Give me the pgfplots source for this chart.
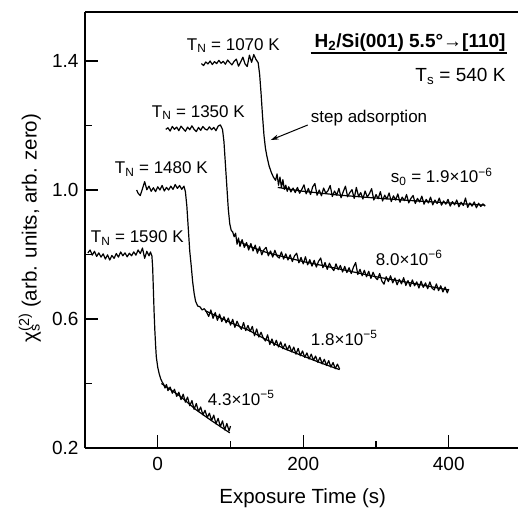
\documentclass[border=0pt]{standalone}
\usepackage{fontspec}
\setmainfont{Liberation Sans}
\usepackage{pgfplots}
\pgfplotsset{compat=1.18}
\usetikzlibrary{arrows.meta}
\newcommand{\ann}{\fontsize{17}{20}\selectfont}
\begin{document}
\begin{tikzpicture}
\begin{axis}[
  scale only axis, width=433pt, height=436pt,
  xmin=-100, xmax=495.2, ymin=0.2, ymax=1.552,
  axis x line=box, axis y line=left,
  axis line style={line width=1.3pt,-},
  xtick={0,200,400}, minor xtick={100,300},
  ytick={0.2,0.6,1.0,1.4}, minor ytick={0.4,0.8,1.2},
  xtick pos=lower, ytick pos=left,
  tick align=inside,
  major tick length=13pt, minor tick length=7pt,
  every tick/.style={line width=1.3pt, black},
  /pgf/number format/assume math mode=true,
  tick label style={font=\fontsize{19}{22}\selectfont},
  yticklabel style={xshift=-3pt, /pgf/number format/fixed, /pgf/number format/fixed zerofill, /pgf/number format/precision=1},
  xticklabel style={yshift=-6pt},
  clip=false,
  data/.style={black, mark=none, line width=1.2pt, line join=round},
]
% T_N = 1070 K, s0 = 1.9e-6
\addplot[data] coordinates {
(60,1.392)(63,1.386)(66,1.397)(69,1.391)(72,1.400)(75,1.389)(78,1.398)(81,1.392)(84,1.402)(87,1.393)
(90,1.399)(93,1.390)(96,1.403)(99,1.395)(102,1.388)(105,1.399)(108,1.406)(111,1.384)(114,1.397)(117,1.412)
(120,1.391)(123,1.383)(126,1.418)(129,1.396)(132,1.420)(135,1.405)(138,1.395)
(140,1.36)(142,1.30)(144,1.23)(146,1.17)(148,1.13)(150,1.105)(153,1.075)(156,1.055)(159,1.040)(162,1.030)
(164,1.050)(166,1.015)(168,1.040)(170,1.008)(172,1.032)(174,1.002)(176,1.015)(178,0.996)(180,1.010)(183,0.994)
(186,1.006)(189,0.992)(192,1.008)(195,0.990)(198,1.002)(201,1.016)(204,0.988)(207,1.005)(210,0.986)(213,1.010)
(216,1.020)(219,0.984)(222,1.000)(225,0.982)(228,1.006)(231,0.990)(234,0.998)(237,1.014)(240,0.980)(243,0.997)
(246,0.984)(249,1.005)(252,0.976)(255,0.995)(258,1.012)(261,0.979)(264,0.992)(267,1.001)(270,0.974)(273,1.008)
(276,0.980)(279,0.992)(282,0.972)(285,0.997)(288,0.978)(291,0.989)(294,1.004)(297,0.969)(300,0.986)(303,0.973)
(306,0.995)(309,0.966)(312,0.984)(315,0.972)(318,0.991)(321,0.964)(324,0.982)(327,0.969)(330,0.988)(333,0.962)
(336,0.978)(339,0.967)(342,0.986)(345,0.960)(348,0.974)(351,0.983)(354,0.958)(357,0.974)(360,0.963)(363,0.981)
(366,0.956)(369,0.971)(372,0.960)(375,0.978)(378,0.954)(381,0.969)(384,0.958)(387,0.975)(390,0.953)(393,0.966)
(396,0.956)(399,0.971)(402,0.950)(405,0.964)(408,0.954)(411,0.969)(414,0.948)(417,0.962)(420,0.952)(423,0.975)
(426,0.946)(429,0.960)(432,0.950)(435,0.963)(438,0.945)(441,0.959)(444,0.949)(447,0.957)(450,0.950)
};
\addplot[data] coordinates {(165,1.008)(200,0.996)(250,0.984)(300,0.975)(350,0.967)(400,0.960)(450,0.953)};
% T_N = 1350 K, s0 = 8.0e-6
\addplot[data] coordinates {
(11,1.188)(14,1.193)(17,1.183)(20,1.197)(23,1.188)(26,1.195)(29,1.184)(32,1.198)(35,1.190)(38,1.182)
(41,1.195)(44,1.187)(47,1.199)(50,1.188)(53,1.181)(56,1.194)(59,1.185)(62,1.197)(65,1.189)(68,1.186)
(71,1.196)(74,1.187)(77,1.194)(80,1.184)(83,1.198)(86,1.202)(89,1.188)
(91,1.15)(93,1.08)(95,1.01)(97,0.94)(99,0.895)(101,0.875)(103,0.870)
(105,0.855)(107,0.866)(109,0.832)(111,0.851)(113,0.825)(116,0.846)(119,0.822)(122,0.837)(125,0.814)(128,0.834)
(131,0.811)(134,0.829)(137,0.804)(140,0.824)(143,0.799)(146,0.815)(149,0.822)(152,0.796)(155,0.811)(158,0.792)
(161,0.813)(164,0.795)(167,0.789)(170,0.808)(173,0.786)(176,0.802)(179,0.783)(182,0.799)(185,0.778)(188,0.796)
(191,0.804)(194,0.774)(197,0.791)(200,0.771)(203,0.793)(206,0.768)(209,0.784)(212,0.764)(215,0.782)(218,0.761)
(221,0.779)(224,0.789)(227,0.759)(230,0.775)(233,0.754)(236,0.773)(239,0.759)(242,0.750)(245,0.771)(248,0.753)
(251,0.766)(254,0.746)(257,0.763)(260,0.744)(263,0.759)(266,0.741)(269,0.761)(272,0.775)(275,0.738)(278,0.754)
(281,0.734)(284,0.751)(287,0.731)(290,0.748)(293,0.726)(296,0.745)(299,0.729)(302,0.722)(305,0.741)(308,0.718)
(311,0.708)(314,0.731)(317,0.716)(320,0.734)(323,0.712)(326,0.727)(329,0.706)(332,0.723)(335,0.709)(338,0.728)
(341,0.704)(344,0.719)(347,0.701)(350,0.721)(353,0.703)(356,0.715)(359,0.696)(362,0.717)(365,0.698)(368,0.712)
(371,0.694)(374,0.715)(377,0.696)(380,0.690)(383,0.709)(386,0.688)(389,0.703)(392,0.684)(395,0.699)(398,0.681)
(400,0.693)
};
\addplot[data] coordinates {(108,0.845)(125,0.826)(150,0.806)(200,0.778)(250,0.755)(300,0.731)(350,0.711)(400,0.690)};
% T_N = 1480 K, s0 = 1.8e-5
\addplot[data] coordinates {
(-29,1.000)(-27,0.990)(-24,0.983)(-21,1.004)(-18,1.026)(-15,1.001)(-12,1.012)(-9,0.996)(-6,1.007)(-3,0.995)
(0,1.010)(3,1.000)(6,1.014)(9,0.997)(12,1.008)(15,1.000)(18,1.012)(21,1.002)(24,1.017)(27,1.005)
(30,1.014)(33,1.002)(36,1.012)(38,0.995)
(40,0.95)(42,0.88)(44,0.81)(46,0.765)(48,0.715)(50,0.680)(52,0.655)(55,0.640)(58,0.638)(61,0.628)(64,0.632)
(67,0.622)(70,0.608)(73,0.628)(76,0.602)(79,0.620)(82,0.596)(85,0.615)(88,0.592)(91,0.607)(94,0.588)
(97,0.603)(100,0.581)(103,0.599)(106,0.574)(109,0.593)(112,0.578)(115,0.568)(118,0.589)(121,0.564)(124,0.580)
(127,0.561)(130,0.577)(133,0.548)(136,0.569)(139,0.544)(142,0.559)(145,0.541)(148,0.532)(151,0.551)(154,0.521)
(157,0.538)(160,0.518)(163,0.534)(166,0.513)(169,0.529)(172,0.508)(175,0.523)(178,0.504)(181,0.518)(184,0.498)
(187,0.513)(190,0.491)(193,0.509)(196,0.486)(199,0.501)(202,0.481)(205,0.495)(208,0.476)(211,0.491)(214,0.472)
(217,0.485)(220,0.466)(223,0.481)(226,0.461)(229,0.475)(232,0.456)(235,0.471)(238,0.451)(241,0.465)(244,0.446)
(247,0.460)(250,0.445)
};
\addplot[data] coordinates {(65,0.626)(100,0.589)(125,0.565)(150,0.535)(175,0.507)(200,0.485)(225,0.463)(250,0.443)};
% T_N = 1590 K, s0 = 4.3e-5
\addplot[data] coordinates {
(-96,0.805)(-93,0.814)(-90,0.798)(-87,0.810)(-84,0.794)(-81,0.805)(-78,0.792)(-75,0.802)(-72,0.786)(-69,0.799)
(-66,0.783)(-63,0.797)(-60,0.788)(-57,0.803)(-54,0.792)(-51,0.808)(-48,0.796)(-45,0.805)(-42,0.793)(-39,0.804)
(-36,0.796)(-33,0.808)(-30,0.798)(-27,0.814)(-24,0.803)(-21,0.820)(-18,0.788)(-15,0.810)(-12,0.796)(-10,0.808)
(-8,0.795)
(-7,0.76)(-6,0.69)(-5,0.62)(-4,0.565)(-3,0.52)(-2,0.483)(0,0.45)(2,0.43)(4,0.415)(6,0.405)
(8,0.398)(10,0.386)(12,0.397)(14,0.378)(17,0.389)(20,0.370)(23,0.382)(26,0.360)(29,0.373)(32,0.350)
(35,0.367)(38,0.342)(41,0.358)(44,0.331)(47,0.347)(50,0.320)(53,0.338)(56,0.313)(59,0.327)(62,0.303)
(65,0.317)(68,0.294)(71,0.308)(74,0.285)(77,0.302)(80,0.275)(83,0.292)(86,0.266)(89,0.284)(92,0.256)
(95,0.276)(98,0.253)(100,0.268)
};
\addplot[data] coordinates {(5,0.400)(30,0.362)(53,0.318)(75,0.283)(99,0.247)};
% annotations
\node[anchor=base west,font=\ann,inner sep=0pt] at (axis cs:39.9,1.434) {T\textsubscript{N} = 1070 K};
\node[anchor=base west,font=\ann,inner sep=0pt] at (axis cs:-8.2,1.226) {T\textsubscript{N} = 1350 K};
\node[anchor=base west,font=\ann,inner sep=0pt] at (axis cs:-59.1,1.050) {T\textsubscript{N} = 1480 K};
\node[anchor=base west,font=\ann,inner sep=0pt] at (axis cs:-92.1,0.836) {T\textsubscript{N} = 1590 K};
\node[anchor=base east,font=\fontsize{19}{22}\selectfont\bfseries,inner sep=0pt] at (axis cs:478.3,1.443) {H\textsubscript{2}/Si(001) 5.5°→[110]};
\draw[line width=1.3pt] (axis cs:210.3,1.425) -- (axis cs:479.7,1.425);
\node[anchor=base east,font=\fontsize{19}{22}\selectfont,inner sep=0pt] at (axis cs:478.3,1.335) {T\textsubscript{s} = 540 K};
\node[anchor=base west,font=\ann,inner sep=0pt] at (axis cs:210.3,1.208) {step adsorption};
\draw[line width=1pt,-{Stealth[length=8pt,width=5pt]}] (axis cs:206.2,1.2016) -- (axis cs:155.3,1.155);
\node[anchor=base west,font=\ann,inner sep=0pt] at (axis cs:320.3,1.022) {s\textsubscript{0} = 1.9×10\textsuperscript{−6}};
\node[anchor=base west,font=\ann,inner sep=0pt] at (axis cs:299.7,0.767) {8.0×10\textsuperscript{−6}};
\node[anchor=base west,font=\ann,inner sep=0pt] at (axis cs:210.3,0.519) {1.8×10\textsuperscript{−5}};
\node[anchor=base west,font=\ann,inner sep=0pt] at (axis cs:68.7,0.333) {4.3×10\textsuperscript{−5}};
\node[anchor=base,font=\fontsize{20.5}{24}\selectfont,inner sep=0pt] at (axis cs:199.3,0.0264) {Exposure Time (s)};
\node[rotate=90,font=\fontsize{20.5}{24}\selectfont,inner sep=0pt] at (axis cs:-176,0.882) {χ\rlap{\textsubscript{s}}\textsuperscript{(2)} (arb. units, arb. zero)};
\coordinate (BL) at (rel axis cs:0,0);
\end{axis}
\pgfresetboundingbox
\path ([shift={(-85pt,448pt)}]BL) rectangle ([shift={(433pt,-60pt)}]BL);
\end{tikzpicture}
\end{document}
